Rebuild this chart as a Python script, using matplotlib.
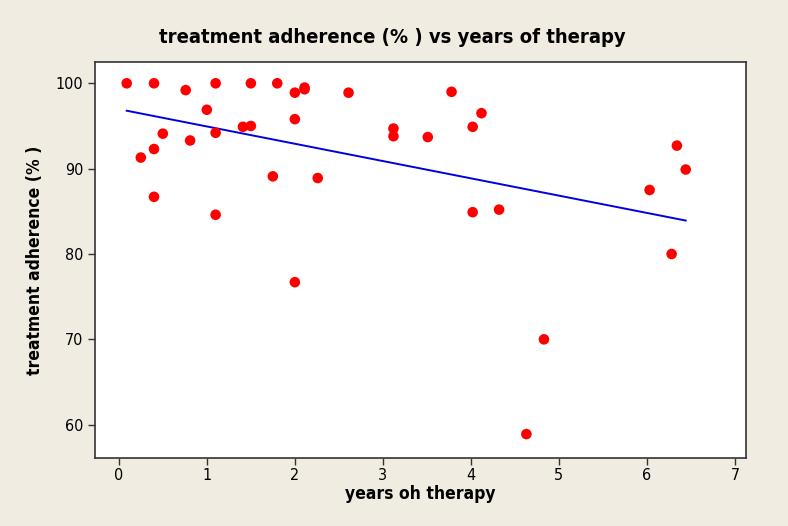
import numpy as np
import matplotlib.pyplot as plt

years = [0.09, 0.25, 0.40, 0.40, 0.40, 0.50, 0.76, 0.81, 1.00, 1.10, 1.10, 1.10,
         1.41, 1.50, 1.50, 1.75, 1.80, 2.00, 2.00, 2.00, 2.11, 2.11, 2.26, 2.61,
         3.12, 3.12, 3.51, 3.78, 4.02, 4.02, 4.12, 4.32, 4.63, 4.83, 6.03, 6.28,
         6.34, 6.44]
adherence = [100.0, 91.3, 100.0, 92.3, 86.7, 94.1, 99.2, 93.3, 96.9, 100.0, 94.2, 84.6,
             94.9, 95.0, 100.0, 89.1, 100.0, 98.9, 95.8, 76.7, 99.3, 99.5, 88.9, 98.9,
             94.7, 93.8, 93.7, 99.0, 94.9, 84.9, 96.5, 85.2, 58.9, 70.0, 87.5, 80.0,
             92.7, 89.9]

xticks = [0, 1, 2, 3, 4, 5, 6, 7]
yticks = [60, 70, 80, 90, 100]

bg = '#f1ece2'
fig = plt.figure(figsize=(7.88, 5.26), dpi=100, facecolor=bg)
ax = fig.add_axes([0.1206, 0.1293, 0.8261, 0.7529])
ax.set_facecolor('white')

ax.scatter(years, adherence, s=58, color='#ff0000', edgecolors='none', zorder=3)

# least squares line over the data range
b, a = np.polyfit(years, adherence, 1)
xs = np.array([min(years), max(years)])
ax.plot(xs, a + b * xs, color='#0000e0', lw=1.4, zorder=2)

ax.set_xlim(-0.27, 7.125)
ax.set_ylim(56.1, 102.5)
ax.set_xticks(xticks)
ax.set_yticks(yticks)

font = dict(family='DejaVu Sans', stretch='condensed')
ax.set_xticklabels([str(t) for t in xticks], fontsize=11.5, **font)
ax.set_yticklabels([str(t) for t in yticks], fontsize=11.5, **font)
ax.tick_params(direction='out', length=5, width=1, color='#333333')
ax.tick_params(axis='x', pad=2)

for sp in ax.spines.values():
    sp.set_color('#333333')
    sp.set_linewidth(1.2)

fig.text(0.4975, 0.928, 'treatment adherence (% ) vs years of therapy', fontsize=14.5,
         fontweight='bold', ha='center', va='center', **font)
ax.set_xlabel('years oh therapy', fontsize=12.5, fontweight='bold', labelpad=2, **font)
ax.set_ylabel('treatment adherence (% )', fontsize=12.5, fontweight='bold', labelpad=8, **font)

fig.savefig('out.png', dpi=100, facecolor=bg)
